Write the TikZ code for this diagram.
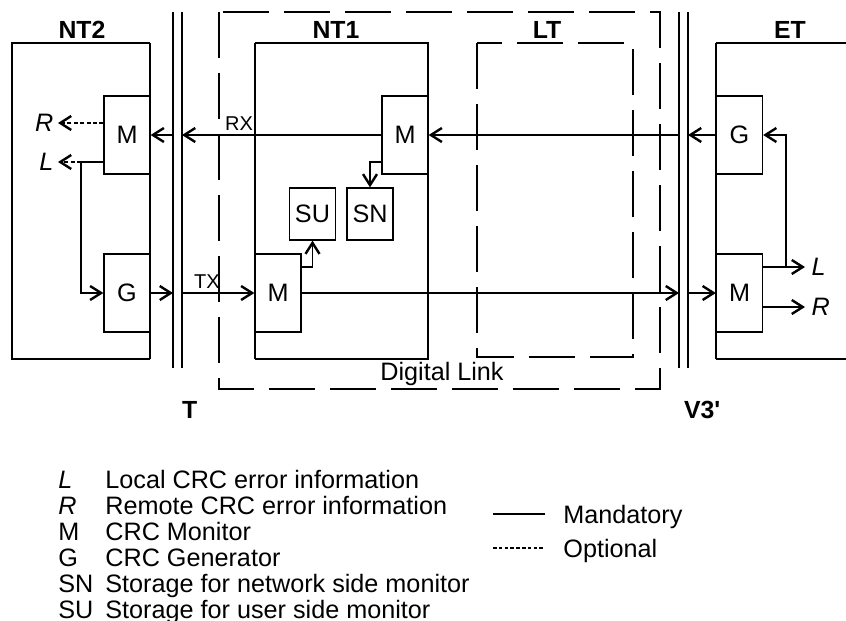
\documentclass[tikz,border=0pt]{standalone}
\usepackage{fontspec}
\setmainfont{Liberation Sans}
\usetikzlibrary{arrows.meta}

\tikzset{
  wire/.style={line width=0.65pt},
  unit/.style={draw,wire,minimum width=23pt,minimum height=39pt,inner sep=0pt,font=\fontsize{12.6}{14}\selectfont},
  store/.style={unit,minimum height=26pt},
  sig/.style={wire,-{Straight Barb[length=5.5pt,width=7pt,line width=1.2pt]}},
  opt/.style={sig,dash pattern=on 2pt off 1.2pt},
  outer/.style={line width=1.3pt},
  link/.style={wire,dash pattern=on 23pt off 7.5pt},
  boxname/.style={font=\bfseries\fontsize{12.4}{14}\selectfont,anchor=base},
  txt/.style={font=\fontsize{12.6}{14}\selectfont},
  chan/.style={font=\fontsize{10}{12}\selectfont},
}

\begin{document}
\begin{tikzpicture}[x=0.5pt,y=-0.5pt]
\useasboundingbox (0,0) rectangle (846,621);
% equipment
\draw[outer] (150,359) -- (12,359) -- (12,43) -- (150,43);
\draw[wire] (150,43) -- (150,359);
\draw[outer] (255,43) -- (428,43) -- (428,359) -- (255,359);
\draw[wire] (255,43) -- (255,359);
\draw[outer] (846,43) -- (716,43);
\draw[outer] (716,359) -- (846,359);
\draw[wire] (716,43) -- (716,359);
\draw[link] (219,12) rectangle (660,389);
\draw[link] (477,43) rectangle (633,357);
\node[boxname] (nt2) at (82,39) {NT2};
\node[boxname] (nt1) at (336,39) {NT1};
\node[boxname] (lt) at (547,39) {LT};
\node[boxname] (et) at (790,39) {ET};
\node[txt,anchor=base] (dl) at (442,380) {Digital Link};
% interfaces
\foreach \N/\X in {ta/173,tb/182,va/679,vb/688}
  {\draw[wire] (\X,12) coordinate (\N) -- (\X,368);}
\node[boxname,anchor=base west] (tref) at (175,418) {T};
\node[boxname,anchor=base west] (vref) at (677,418) {V3\textquotesingle};
% function blocks
\node[unit] (m2) at (127,135) {M};
\node[unit] (g2) at (127,293) {G};
\node[unit] (m1u) at (405,135) {M};
\node[unit] (m1l) at (278,293) {M};
\node[store] (su) at (312.5,214) {SU};
\node[store] (sn) at (370,214) {SN};
\node[unit] (ge) at (739.5,135) {G};
\node[unit] (me) at (739.5,293) {M};
% receive direction
\draw[sig] (m1u.west) -- (m1u.west -| tb);
\draw[sig] (m1u.west -| ta) -- (m2.east);
\draw[sig] (ge.west) -- (ge.west -| vb);
\draw[sig] (ge.west -| va) -- (m1u.east);
\node[chan] (rx) at (239,124) {RX};
% transmit direction
\draw[sig] (g2.east) -- (g2.east -| ta);
\draw[sig] (g2.east -| tb) -- (m1l.west);
\draw[sig] (m1l.east) -- (m1l.east -| va);
\draw[sig] (m1l.east -| vb) -- (me.west);
\node[chan] (tx) at (207,282) {TX};
% NT2 outputs
\coordinate (rn) at (58,123);
\coordinate (ln) at (58,162);
\coordinate (lj) at (81,162);
\draw[opt] ([yshift=6pt]m2.west) -- (rn) node[txt,left,inner sep=2pt] (rn2) {\textit{R}};
\draw[wire] ([yshift=-13.5pt]m2.west) -- (lj);
\draw[opt] (lj) -- (ln) node[txt,left,inner sep=2pt] (ln2) {\textit{L}};
\draw[sig] (lj) |- (g2.west);
% NT1 storage
\draw[sig] ([yshift=-13.5pt]m1u.west) -| (sn.north);
\draw[sig] ([yshift=13pt]m1l.east) -| (su.south);
% ET outputs
\coordinate (le) at (805,267);
\coordinate (re) at (805,307);
\coordinate (ej) at (786,267);
\draw[sig] ([yshift=13pt]me.east) -- (le) node[txt,right,inner sep=3pt] (le2) {\textit{L}};
\draw[sig] (ej) |- (ge.east);
\draw[sig] ([yshift=-7pt]me.east) -- (re) node[txt,right,inner sep=3pt] (re2) {\textit{R}};
% legend
\foreach \S/\D [count=\i] in {\textit{L}/Local CRC error information,\textit{R}/Remote CRC error information,M/CRC Monitor,G/CRC Generator,SN/Storage for network side monitor,SU/Storage for user side monitor}
  {\node[txt,anchor=base west,inner sep=0pt] (key\i) at (58,{488+26*(\i-1)}) {\S};
   \node[txt,anchor=base west,inner sep=0pt] (desc\i) at (105,{488+26*(\i-1)}) {\D};}
\node[txt,anchor=base west,inner sep=0pt] (mand) at (563,523) {Mandatory};
\node[txt,anchor=base west,inner sep=0pt] (optn) at (563,557) {Optional};
\draw[wire] (493,514) -- (545,514);
\draw[wire,dash pattern=on 1.8pt off 1.1pt] (493,548) -- (545,548);
\end{tikzpicture}
\end{document}
